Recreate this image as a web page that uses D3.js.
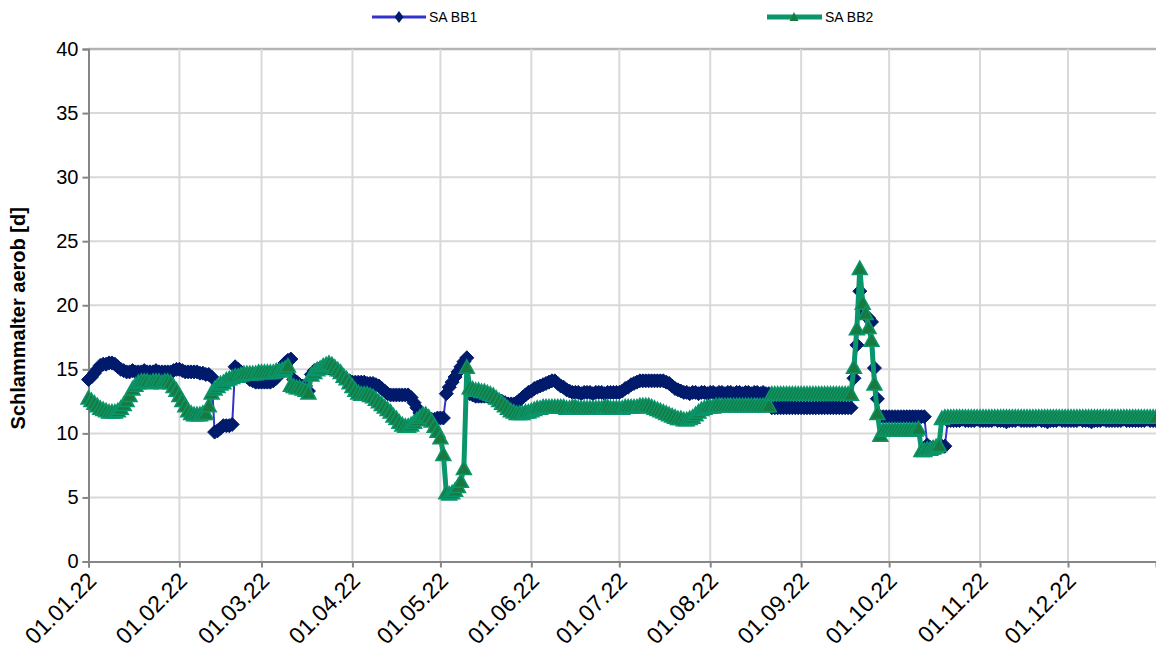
<!DOCTYPE html>
<html><head><meta charset="utf-8">
<script src="https://cdn.jsdelivr.net/npm/d3@7"></script>
<style>
html,body{margin:0;padding:0;background:#fff;}
svg{display:block;font-family:"Liberation Sans",Arial,sans-serif;}
</style></head>
<body>
<svg id="chart" width="1156" height="657"></svg>
<script>
// ---- data (daily values, 01.01.22 .. 31.12.22) ----
const startDate = "2022-01-01";
const seriesNames = ["SA BB1", "SA BB2"];
const yTicks = [0,5,10,15,20,25,30,35,40];
const monthTicks = ["2022-01-01","2022-02-01","2022-03-01","2022-04-01","2022-05-01","2022-06-01","2022-07-01","2022-08-01","2022-09-01","2022-10-01","2022-11-01","2022-12-01"];
const yLabel = "Schlammalter aerob [d]";

const saBB1 = [
14.2,14.4,14.7,15.0,15.3,15.4,15.4,15.5,15.5,15.4,
15.2,15.0,14.9,14.8,14.8,14.9,14.8,14.8,14.8,14.9,
14.8,14.8,14.8,14.9,14.8,14.8,14.8,14.8,14.8,14.9,
15.0,15.0,14.9,14.8,14.8,14.8,14.8,14.8,14.7,14.7,
14.6,14.6,14.4,10.1,10.2,10.4,10.6,10.6,10.6,10.7,
15.2,15.0,14.8,14.6,14.4,14.2,14.1,14.0,14.0,14.0,
14.0,14.0,14.0,14.1,14.3,14.8,15.2,15.5,15.7,15.8,
14.2,14.0,13.8,13.7,13.7,13.3,14.6,14.9,15.0,15.1,
15.2,15.2,15.1,15.0,14.9,14.7,14.5,14.3,14.2,14.1,
14.0,14.0,14.0,14.0,14.0,13.9,13.9,13.9,13.8,13.7,
13.5,13.3,13.1,13.0,13.0,13.0,13.0,13.0,13.0,13.0,
12.8,12.4,12.0,11.6,11.2,11.1,11.1,11.1,11.1,11.2,
11.2,11.2,13.1,13.6,14.0,14.4,14.8,15.2,15.6,15.9,
13.1,13.0,12.9,12.9,12.9,12.9,12.9,12.8,12.8,12.7,
12.6,12.5,12.4,12.3,12.3,12.3,12.4,12.6,12.8,13.0,
13.2,13.3,13.5,13.6,13.7,13.8,13.9,14.0,14.1,14.1,
13.9,13.7,13.6,13.4,13.3,13.2,13.2,13.2,13.1,13.2,
13.2,13.2,13.1,13.2,13.2,13.2,13.1,13.2,13.2,13.2,
13.2,13.2,13.3,13.5,13.6,13.8,13.9,14.0,14.1,14.1,
14.1,14.1,14.1,14.1,14.1,14.1,14.1,14.0,13.9,13.7,
13.5,13.4,13.3,13.2,13.2,13.1,13.2,13.2,13.1,13.2,
13.2,13.1,13.2,13.2,13.1,13.2,13.2,13.1,13.2,13.2,
13.1,13.2,13.2,13.1,13.2,13.2,13.1,13.2,13.2,13.1,
13.2,13.1,13.1,12.0,12.0,12.0,12.0,12.0,12.0,12.0,
12.0,12.0,12.0,12.0,12.0,12.0,12.0,12.0,12.0,12.0,
12.0,12.0,12.0,12.0,12.0,12.0,12.0,12.0,12.0,12.0,
12.0,14.3,16.9,21.1,19.7,19.2,19.0,18.7,15.1,12.7,
11.3,11.3,11.3,11.3,11.3,11.3,11.3,11.3,11.3,11.3,
11.3,11.3,11.3,11.3,11.3,11.3,9.1,8.9,8.9,8.9,
8.9,9.0,9.0,11.0,11.0,11.0,11.0,11.0,11.1,11.0,
11.0,11.0,11.0,11.1,11.0,11.0,11.0,11.0,11.0,11.1,
11.0,11.0,11.0,10.9,11.0,11.0,11.0,11.1,11.0,11.0,
11.0,11.0,11.0,11.0,11.1,11.0,11.0,10.9,11.0,11.0,
11.0,11.1,11.0,11.0,11.0,11.0,11.0,11.0,11.1,11.0,
11.0,11.0,10.9,11.0,11.0,11.0,11.1,11.0,11.0,11.0,
11.0,11.0,11.0,11.1,11.0,11.0,11.0,11.0,11.0,11.0,
11.0,11.1,11.0,11.0,11.0
];

const saBB2 = [
12.8,12.6,12.4,12.2,12.0,11.9,11.8,11.7,11.7,11.7,
11.8,12.0,12.3,12.6,13.0,13.5,13.8,14.0,14.1,14.1,
14.1,14.0,14.1,14.1,14.1,14.0,14.1,14.1,14.0,13.7,
13.4,13.0,12.6,12.2,11.8,11.6,11.5,11.5,11.5,11.6,
11.6,12.2,13.2,13.5,13.7,13.9,14.0,14.2,14.3,14.4,
14.5,14.5,14.6,14.7,14.7,14.7,14.7,14.7,14.8,14.8,
14.8,14.8,14.8,14.8,14.9,14.9,15.0,15.1,15.3,13.8,
13.7,13.6,13.6,13.5,13.4,13.2,14.6,14.8,15.0,15.1,
15.3,15.4,15.5,15.4,15.2,15.0,14.8,14.5,14.3,14.0,
13.7,13.4,13.2,13.1,13.1,13.1,13.0,12.9,12.7,12.5,
12.3,12.1,11.9,11.7,11.4,11.2,10.9,10.7,10.6,10.6,
10.7,10.9,11.1,11.3,11.5,11.5,11.3,11.0,10.6,10.2,
9.7,8.4,5.4,5.3,5.4,5.6,5.9,6.3,7.3,15.2,
13.6,13.5,13.4,13.4,13.3,13.3,13.2,13.1,13.0,12.8,
12.6,12.4,12.2,12.0,11.8,11.7,11.6,11.6,11.6,11.7,
11.7,11.8,11.9,12.0,12.0,12.1,12.1,12.1,12.1,12.1,
12.1,12.1,12.1,12.0,12.0,12.1,12.1,12.0,12.0,12.0,
12.0,12.0,12.0,12.0,12.0,12.0,12.1,12.1,12.0,12.0,
12.0,12.0,12.0,12.1,12.1,12.1,12.1,12.1,12.2,12.2,
12.2,12.2,12.1,12.0,11.9,11.8,11.7,11.6,11.5,11.4,
11.3,11.2,11.2,11.1,11.1,11.2,11.3,11.5,11.7,11.9,
12.0,12.1,12.1,12.1,12.2,12.2,12.2,12.2,12.2,12.2,
12.2,12.2,12.2,12.2,12.2,12.2,12.2,12.2,12.2,12.2,
12.2,12.2,12.2,13.1,13.1,13.1,13.1,13.1,13.1,13.1,
13.1,13.1,13.1,13.1,13.1,13.1,13.1,13.1,13.1,13.1,
13.1,13.1,13.1,13.1,13.1,13.1,13.1,13.1,13.1,13.1,
13.1,15.2,18.2,22.9,20.2,19.4,18.3,17.3,13.9,11.6,
9.9,10.3,10.3,10.3,10.3,10.3,10.3,10.3,10.3,10.3,
10.3,10.3,10.3,10.4,8.7,8.7,8.8,8.8,8.9,9.0,
9.1,11.2,11.3,11.3,11.3,11.3,11.3,11.3,11.3,11.3,
11.3,11.3,11.3,11.3,11.3,11.3,11.3,11.3,11.3,11.3,
11.3,11.3,11.3,11.3,11.3,11.3,11.3,11.3,11.3,11.3,
11.3,11.3,11.3,11.3,11.3,11.3,11.3,11.3,11.3,11.3,
11.3,11.3,11.3,11.3,11.3,11.3,11.3,11.3,11.3,11.3,
11.3,11.3,11.3,11.3,11.3,11.3,11.3,11.3,11.3,11.3,
11.3,11.3,11.3,11.3,11.3,11.3,11.3,11.3,11.3,11.3,
11.3,11.3,11.3,11.3,11.3
];

// ---- chart ----
const svg = d3.select("#chart");
const margin = {left: 88.5, right: 0, top: 49, bottom: 95};
const W = 1156, H = 657;
const parse = d3.utcParse("%Y-%m-%d");
const t0 = parse(startDate);
const dates = saBB1.map((_, i) => d3.utcDay.offset(t0, i));

const x = d3.scaleUtc().domain([t0, parse("2022-12-31")]).range([margin.left, W - margin.right]);
const y = d3.scaleLinear().domain([0, 40]).range([H - margin.bottom - 0.5, margin.top]);

// gridlines
const grid = svg.append("g");
grid.selectAll("line.h").data(yTicks.filter(v => v > 0)).join("line")
  .attr("x1", margin.left).attr("x2", W).attr("y1", d => y(d)).attr("y2", d => y(d))
  .attr("stroke", d => d === 40 ? "#b3b3b3" : "#d9d9d9").attr("stroke-width", d => d === 40 ? 2.5 : 2);
grid.selectAll("line.v").data(monthTicks.slice(1).map(parse)).join("line")
  .attr("x1", d => x(d)).attr("x2", d => x(d)).attr("y1", y(40)).attr("y2", y(0))
  .attr("stroke", "#d9d9d9").attr("stroke-width", 2);

// axes
const yAxis = svg.append("g").attr("transform", `translate(${margin.left},0)`)
  .call(d3.axisLeft(y).tickValues(yTicks).tickSize(6).tickPadding(4));
const xAxis = svg.append("g").attr("transform", `translate(0,${y(0)})`)
  .call(d3.axisBottom(x).tickValues(monthTicks.map(parse)).tickSize(6).tickFormat(d3.utcFormat("%d.%m.%y")));
[yAxis, xAxis].forEach(a => {
  a.select(".domain").attr("stroke", "#868686").attr("stroke-width", 2);
  a.selectAll(".tick line").attr("stroke", "#868686").attr("stroke-width", 2);
  a.selectAll("text").attr("fill", "#000").style("font-size", "20px").style("font-family", '"Liberation Sans",Arial,sans-serif');
});
xAxis.selectAll(".tick text")
  .attr("x", 0).attr("y", 0).attr("dy", "0.35em")
  .attr("transform", "translate(3,15) rotate(-45)")
  .style("text-anchor", "end").style("font-size", "23px");

svg.append("text").attr("transform", `translate(25,${(y(0) + y(40)) / 2 + 13}) rotate(-90)`)
  .attr("text-anchor", "middle").style("font-size", "20px").style("font-weight", "bold").text(yLabel);

// series
const plot = svg.append("g");
const pts1 = saBB1.map((v, i) => ({d: dates[i], v}));
const pts2 = saBB2.map((v, i) => ({d: dates[i], v}));
const line = d3.line().x(p => x(p.d)).y(p => y(p.v));

const diamond = "M0,-7L7,0L0,7L-7,0Z";
const triangle = "M0,-7L7.5,6.5L-7.5,6.5Z";

plot.append("path").attr("d", line(pts1)).attr("fill", "none").attr("stroke", "#3333cc").attr("stroke-width", 2);
plot.append("g").selectAll("path").data(pts1).join("path")
  .attr("d", diamond).attr("transform", p => `translate(${x(p.d)},${y(p.v)})`)
  .attr("fill", "#001a6c").attr("stroke", "#001a6c").attr("stroke-width", 1);

plot.append("path").attr("d", line(pts2)).attr("fill", "none").attr("stroke", "#0a966b").attr("stroke-width", 5).attr("stroke-linejoin", "round");
plot.append("g").selectAll("path").data(pts2).join("path")
  .attr("d", triangle).attr("transform", p => `translate(${x(p.d)},${y(p.v)})`)
  .attr("fill", "#187a3e").attr("stroke", "#0a966b").attr("stroke-width", 1.5);

// legend
const lg = svg.append("g");
const l1 = lg.append("g").attr("transform", "translate(372,17)");
l1.append("line").attr("x1", 0).attr("x2", 54).attr("stroke", "#3333cc").attr("stroke-width", 3);
l1.append("path").attr("d", "M0,-6L4.5,0L0,6L-4.5,0Z").attr("transform", "translate(27,0)").attr("fill", "#001a6c");
l1.append("text").attr("x", 57).attr("dy", "0.35em").style("font-size", "14px").text(seriesNames[0]);
const l2 = lg.append("g").attr("transform", "translate(767,17)");
l2.append("line").attr("x1", 0).attr("x2", 55).attr("stroke", "#0a966b").attr("stroke-width", 5);
l2.append("path").attr("d", "M0,-5L4.5,4L-4.5,4Z").attr("transform", "translate(27,0)").attr("fill", "#187a3e");
l2.append("text").attr("x", 58).attr("dy", "0.35em").style("font-size", "14px").text(seriesNames[1]);
</script>
</body></html>
